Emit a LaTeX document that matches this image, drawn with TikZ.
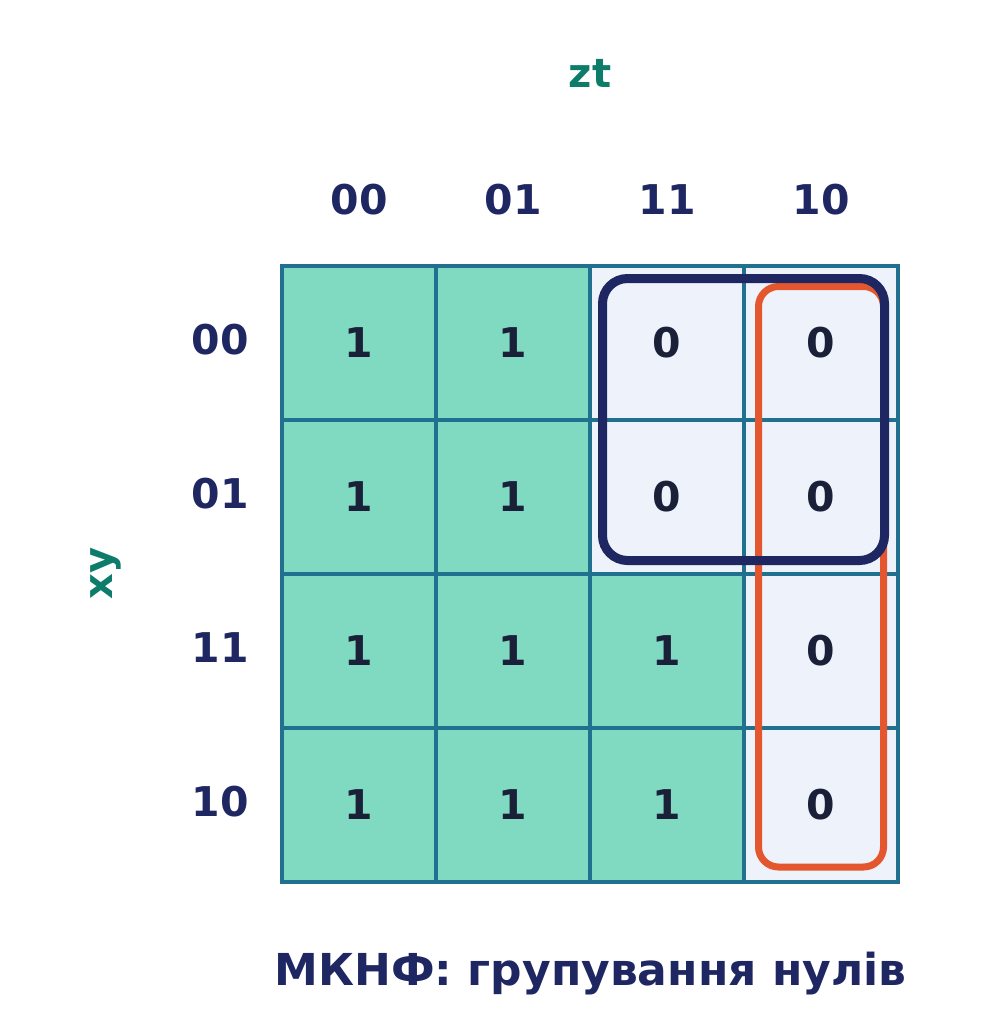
\documentclass[tikz,border=0pt]{standalone}
\usepackage{fontspec}
\setmainfont{DejaVu Sans}
\usetikzlibrary{positioning}
\definecolor{gridline}{HTML}{21708F}
\definecolor{onefill}{HTML}{80D9C1}
\definecolor{zerofill}{HTML}{EEF3FB}
\definecolor{digit}{HTML}{1B2039}
\definecolor{navy}{HTML}{1E2761}
\definecolor{tealtext}{HTML}{0E7C6B}
\definecolor{groupred}{HTML}{E4572E}
\tikzset{
  kcell/.style={%
    draw=gridline,
    line width=4.5pt,
    rectangle,
    inner sep=0,
    minimum size=154pt,
    text=digit,
    font=\bfseries\fontsize{41}{50}\selectfont,
  },
  one/.style={kcell,fill=onefill},
  zero/.style={kcell,fill=zerofill},
  headlabel/.style={text=navy,inner sep=0,font=\bfseries\fontsize{41}{50}\selectfont},
  varlabel/.style={text=tealtext,inner sep=0,font=\bfseries\fontsize{40}{48}\selectfont},
  group/.style={%
    draw=#1,
    rectangle,
    inner sep=0,
  }
}
\newcommand\Kcell[4]{% column, row, value, style
  \node (c#2#1) [#4] at ({359+154*#1},{343+154*#2}) {#3};
}
\begin{document}
\begin{tikzpicture}[x=1pt,y=-1pt]
    \useasboundingbox (0,0) rectangle (980,1032);
    % variable names
    \node (zt) [varlabel,anchor=base] at (590,88) {zt};
    \node (xy) [varlabel,anchor=base,rotate=90] at (112,573.5) {xy};
    % column and row labels
    \node (h0) [headlabel] at (359,200) {00};
    \node (h1) [headlabel] at (513,200) {01};
    \node (h2) [headlabel] at (667,200) {11};
    \node (h3) [headlabel] at (821,200) {10};
    \node (r0) [headlabel,anchor=east] at (249,340) {00};
    \node (r1) [headlabel,anchor=east] at (249,494) {01};
    \node (r2) [headlabel,anchor=east] at (249,648) {11};
    \node (r3) [headlabel,anchor=east] at (249,802) {10};
    % cells
    \Kcell{0}{0}{1}{one} \Kcell{1}{0}{1}{one} \Kcell{2}{0}{0}{zero} \Kcell{3}{0}{0}{zero}
    \Kcell{0}{1}{1}{one} \Kcell{1}{1}{1}{one} \Kcell{2}{1}{0}{zero} \Kcell{3}{1}{0}{zero}
    \Kcell{0}{2}{1}{one} \Kcell{1}{2}{1}{one} \Kcell{2}{2}{1}{one}  \Kcell{3}{2}{0}{zero}
    \Kcell{0}{3}{1}{one} \Kcell{1}{3}{1}{one} \Kcell{2}{3}{1}{one}  \Kcell{3}{3}{0}{zero}
    % groups of zeros
    \node (gcol) [group=groupred,line width=7pt,rounded corners=20pt,
        minimum width=125pt,minimum height=580.5pt] at (821,576.75) {};
    \node (gsq) [group=navy,line width=9pt,rounded corners=25pt,
        minimum width=282pt,minimum height=282pt] at (743.5,419.5) {};
    % caption
    \node (caption) [anchor=base,text=navy,inner sep=0,
        font=\bfseries\fontsize{44}{52}\selectfont] at (590.5,985) {МКНФ: групування нулів};
\end{tikzpicture}
\end{document}
